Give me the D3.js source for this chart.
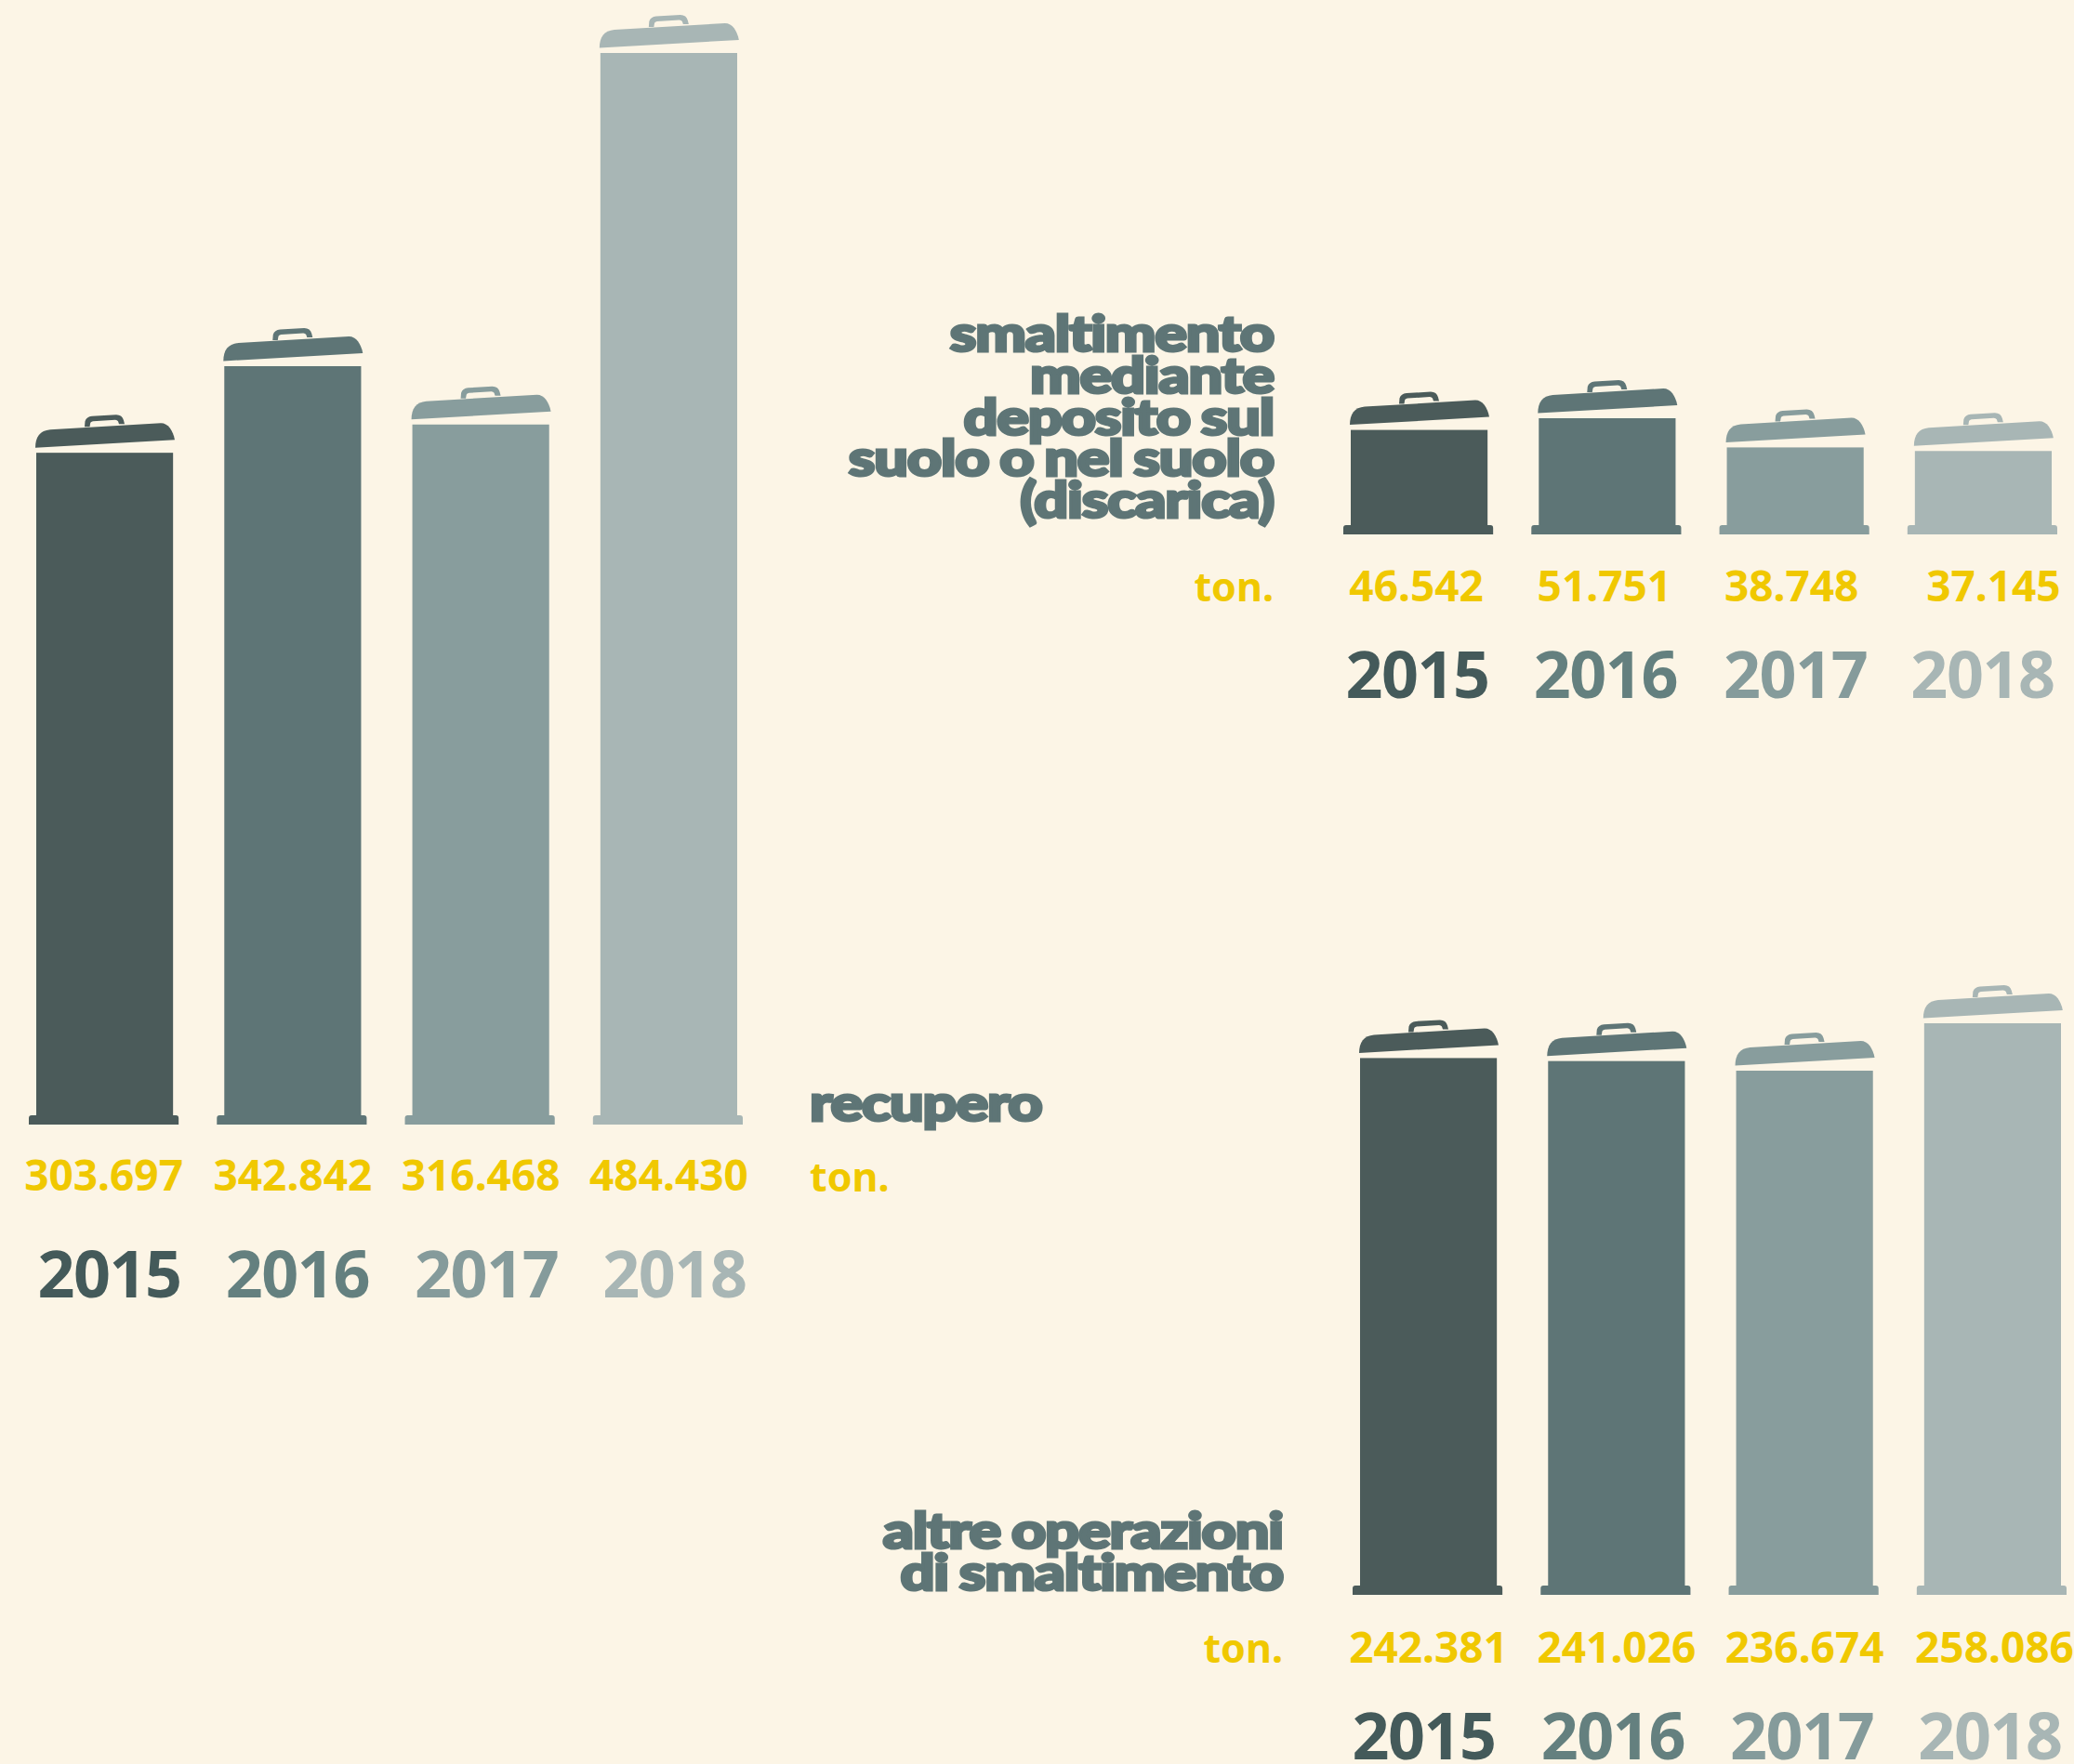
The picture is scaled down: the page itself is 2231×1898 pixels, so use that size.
<!DOCTYPE html>
<html><head><meta charset="utf-8">
<script src="https://cdn.jsdelivr.net/npm/d3@7"></script>
<style>html,body{margin:0;padding:0;background:#fcf5e6}svg{display:block}</style></head>
<body><div id="c"></div>
<script>
const years = ["2015","2016","2017","2018"];
const recupero = [303697,342842,316468,484430];
const discarica = [46542,51751,38748,37145];
const altre = [242381,241026,236674,258086];
const titleRecupero = ["recupero"];
const titleDiscarica = ["smaltimento","mediante","deposito sul","suolo o nel suolo","(discarica)"];
const titleAltre = ["altre operazioni","di smaltimento"];
const barColors = ["#4b5b5a","#5e7576","#889d9d","#a8b6b5"];
const yearColors = ["#445a5a","#64807f","#859b9b","#a8b6b5"];
const yellow = "#f0c800";

const W=2231,H=1898;
const svg=d3.select("#c").append("svg").attr("width",W).attr("height",H);
svg.append("rect").attr("width",W).attr("height",H).attr("fill","#fcf5e6");
const fmt=d3.formatLocale({decimal:",",thousands:".",grouping:[3],currency:["","€"]}).format(",d");
const numFont="'Noto Sans',sans-serif";

function lidPath(){
  const p=d3.path();
  p.moveTo(-1,-5.5);
  p.bezierCurveTo(-1,-17,4,-24,15,-25);
  p.lineTo(134,-32);
  p.bezierCurveTo(142,-32,147,-24,149,-14);
  p.closePath();
  return p.toString();
}
function handlePath(){
  const p=d3.path();
  p.moveTo(52,-28);
  p.lineTo(52.5,-34);
  p.quadraticCurveTo(54,-39,60,-39.5);
  p.lineTo(86,-41);
  p.quadraticCurveTo(92.5,-41,94,-35);
  p.lineTo(95,-31);
  p.lineTo(89,-31);
  p.lineTo(88,-34);
  p.quadraticCurveTo(87,-35.5,85,-35.5);
  p.lineTo(61,-34);
  p.quadraticCurveTo(58,-33.5,58,-31);
  p.lineTo(57.5,-28);
  p.closePath();
  return p.toString();
}

function panel(cfg){
  const x=d3.scaleBand().domain(years).range(cfg.xr).paddingInner(0.2725).paddingOuter(0);
  const y=d3.scaleLinear().domain([0,cfg.dmax]).range([cfg.base,cfg.base-cfg.hmax]);
  const bw=x.bandwidth();
  const g=svg.append("g");
  const row=g.selectAll("g.bar").data(cfg.values).join("g").attr("class","bar")
    .attr("transform",(d,i)=>`translate(${x(years[i])},0)`);
  row.append("rect").attr("x",0).attr("width",bw).attr("y",d=>y(d)).attr("height",d=>cfg.base-y(d))
    .attr("fill",(d,i)=>barColors[i]);
  row.append("path").attr("d",`M-8,${cfg.base}V${cfg.base-7}Q-8,${cfg.base-10} -5,${cfg.base-10}H${bw+3}Q${bw+6},${cfg.base-10} ${bw+6},${cfg.base-7}V${cfg.base}Z`)
    .attr("fill",(d,i)=>barColors[i]);
  const lid=row.append("g").attr("transform",d=>`translate(0,${y(d)})`);
  lid.append("path").attr("d",lidPath()).attr("fill",(d,i)=>barColors[i]);
  lid.append("path").attr("d",handlePath()).attr("fill",(d,i)=>barColors[i]);
  row.append("text").attr("x",(d,i)=>bw/2+cfg.valOff[i]).attr("y",cfg.base+cfg.valDy).attr("text-anchor","middle")
    .attr("font-family",numFont).attr("font-weight",700).attr("font-size",46)
    .attr("letter-spacing",0).attr("fill",yellow).text(d=>fmt(d));
  row.append("text").attr("x",(d,i)=>bw/2+cfg.yearOff[i]).attr("y",cfg.base+cfg.yearDy).attr("text-anchor","middle")
    .attr("font-family",numFont).attr("font-weight",700).attr("font-size",70)
    .attr("letter-spacing",-1.5).attr("fill",(d,i)=>yearColors[i]).text((d,i)=>years[i]);
  g.selectAll("text.t").data(cfg.title).join("text").attr("class","t")
    .attr("transform",(d,i)=>`translate(${cfg.tx},${cfg.ty+i*cfg.tl}) scale(1.2,1)`).attr("text-anchor",cfg.anchor)
    .attr("font-family","Lato,'Noto Sans',sans-serif").attr("font-weight",900).attr("font-size",54)
    .attr("fill","#5e7576").attr("stroke","#5e7576").attr("stroke-width",3)
    .attr("letter-spacing",-1).attr("word-spacing",-2).text(d=>d);
  g.append("text").attr("x",cfg.tx).attr("y",cfg.tonY).attr("text-anchor",cfg.anchor)
    .attr("font-family",numFont).attr("font-weight",700).attr("font-size",43)
    .attr("fill",yellow).text("ton.");
}
panel({values:recupero,xr:[39,793],base:1210,dmax:484430,hmax:1153,valDy:71,valOff:[-1,0,0,0],yearDy:186,yearOff:[5,5,6,6],
  title:titleRecupero,tx:871,ty:1206,tl:45,anchor:"start",tonY:1282});
panel({values:discarica,xr:[1453,2207],base:575,dmax:51751,hmax:125,valDy:72,valOff:[-3,-3,-4,11],yearDy:176,yearOff:[-2,-2,0,-1],
  title:titleDiscarica,tx:1370,ty:378,tl:44.8,anchor:"end",tonY:647});
panel({values:altre,xr:[1463,2217],base:1716,dmax:258086,hmax:615,valDy:73,valOff:[0,0,0,2],yearDy:177,yearOff:[-5,-4,-3,-3],
  title:titleAltre,tx:1380,ty:1666,tl:45,anchor:"end",tonY:1789});
</script></body></html>
